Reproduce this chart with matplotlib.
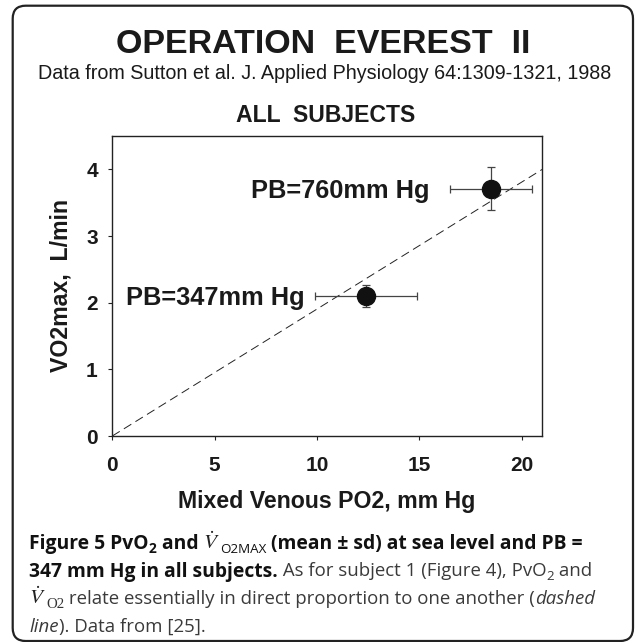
import matplotlib
matplotlib.use('Agg')
import matplotlib.pyplot as plt
import matplotlib.patches as patches
from matplotlib.transforms import IdentityTransform

### data

pb_labels = ['PB=347mm Hg', 'PB=760mm Hg']
pvo2_mean = [12.4, 18.5]      # mm Hg
pvo2_sd = [2.5, 2.0]
vo2max_mean = [2.10, 3.71]    # L/min
vo2max_sd = [0.17, 0.32]
line_x = [0, 21]              # dashed proportionality line
line_y = [0, 4.0]
x_ticks = [0, 5, 10, 15, 20]
y_ticks = [0, 1, 2, 3, 4]

W, H = 635, 642
INK = '#1a1a1a'
SANS = ['Liberation Sans', 'DejaVu Sans']
CAP = ['Liberation Sans Narrow', 'Open Sans', 'DejaVu Sans']

fig = plt.figure(figsize=(W / 100, H / 100), dpi=100)
renderer = fig.canvas.get_renderer()


def ftext(x, y, s, **kw):
    '''place text using pixel coords measured from the top-left corner'''
    return fig.text(x / W, 1 - y / H, s, **kw)


def run_width(s, kw):
    if s.startswith('$'):
        t = fig.text(0, 0, s, **kw)
        w = t.get_window_extent(renderer).width
    else:
        t = fig.text(0, 0, '|' + s + '|', **kw)
        w = t.get_window_extent(renderer).width
        t.set_text('||')
        w -= t.get_window_extent(renderer).width
    t.remove()
    return w


def draw_line(x, y, runs):
    '''draw a line made of runs of differently styled text'''
    for s, kw in runs:
        kw = dict(kw)
        dy = kw.pop('dy', 0)
        ftext(x, y + dy, s, va='baseline', ha='left', **kw)
        x += run_width(s, kw)


### frame around the whole figure
frame = patches.FancyBboxPatch((12.7, H - 641), 633 - 12.7, 641 - 5.7,
                               boxstyle='round,pad=0,rounding_size=13',
                               transform=IdentityTransform(),
                               fill=False, lw=1.6, ec='#222222')
fig.add_artist(frame)

### titles
ftext(323, 52.7, 'OPERATION  EVEREST  II', ha='center', va='baseline',
      family=SANS, weight='bold', size=24.5, color=INK)
ftext(324.5, 79.3, 'Data from Sutton et al. J. Applied Physiology 64:1309-1321, 1988',
      ha='center', va='baseline', family=SANS, size=14.2, color=INK)
ftext(326, 121.7, 'ALL  SUBJECTS', ha='center', va='baseline',
      family=SANS, weight='bold', size=16.6, color=INK)

### plot
ax = fig.add_axes([112.3 / W, 1 - 436 / H, 430 / W, 300 / H])
ax.plot(line_x, line_y, ls=(0, (9, 5)), lw=0.7, color='#222222')
ax.errorbar(pvo2_mean, vo2max_mean, xerr=pvo2_sd, yerr=vo2max_sd,
            fmt='o', ms=13, color='#111111', ecolor='#444444',
            elinewidth=0.9, capsize=3.2, capthick=0.9, zorder=3)
for lab, x, y in zip(pb_labels, pvo2_mean, vo2max_mean):
    ax.annotate(lab, xy=(x, y), xytext=(-62, -9), textcoords='offset pixels',
                ha='right', va='baseline', family=SANS, weight='bold',
                size=18.3, color=INK)

ax.set_xlim(0, 21)
ax.set_ylim(0, 4.5)
ax.set_xticks(x_ticks)
ax.set_yticks(y_ticks)
for sp in ax.spines.values():
    sp.set_linewidth(1.0)
    sp.set_color('#222222')
ax.tick_params(axis='both', direction='out', length=2.9, width=0.8, color='#222222')
ax.tick_params(axis='x', pad=11.5)
ax.tick_params(axis='y', pad=7.5)
for lab in ax.get_xticklabels() + ax.get_yticklabels():
    lab.set_family(SANS)
    lab.set_weight('bold')
    lab.set_size(15)
    lab.set_color(INK)

ftext(327, 508.3, 'Mixed Venous PO2, mm Hg', ha='center', va='baseline',
      family=SANS, weight='bold', size=16.7, color=INK)
ftext(61, 285, 'VO2max,  L/min', ha='center', va='center', rotation=90,
      family=SANS, weight='bold', size=16.7, color=INK)

### caption
cs = 13.9   # bold run size
rs = 13.4   # regular run size
bold = dict(family=CAP, weight='bold', size=cs, color='#111111')
bold_sub = dict(bold, size=cs * 0.72, dy=3.5)
reg = dict(family=CAP, size=rs, color='#3a3a3a')
reg_sub = dict(reg, size=rs * 0.72, dy=3.5)
ital = dict(reg, style='italic')
vdot = dict(math_fontfamily='stix', size=cs + 1.5, color='#222222')
serif_sub = dict(family=['Liberation Serif', 'DejaVu Serif'], size=rs * 0.8,
                 color='#333333', dy=3.5)

draw_line(29.3, 549.3, [('Figure 5 PvO', bold), ('2', bold_sub), (' and ', bold),
                        (r'$\dot{V}$', vdot), ('O2MAX', dict(reg_sub, color='#111111')),
                        (' (mean \u00b1 sd) at sea level and PB =', bold)])
draw_line(29.3, 576.5, [('347 mm Hg in all subjects.', bold),
                        (' As for subject 1 (Figure 4), PvO', reg), ('2', reg_sub),
                        (' and', reg)])
draw_line(29.3, 604, [(r'$\dot{V}$', vdot), ('O2', serif_sub),
                      (' relate essentially in direct proportion to one another (', reg),
                      ('dashed', ital)])
draw_line(29.3, 631.5, [('line', ital), ('). Data from [25].', reg)])

fig.savefig('out.png', dpi=100)
